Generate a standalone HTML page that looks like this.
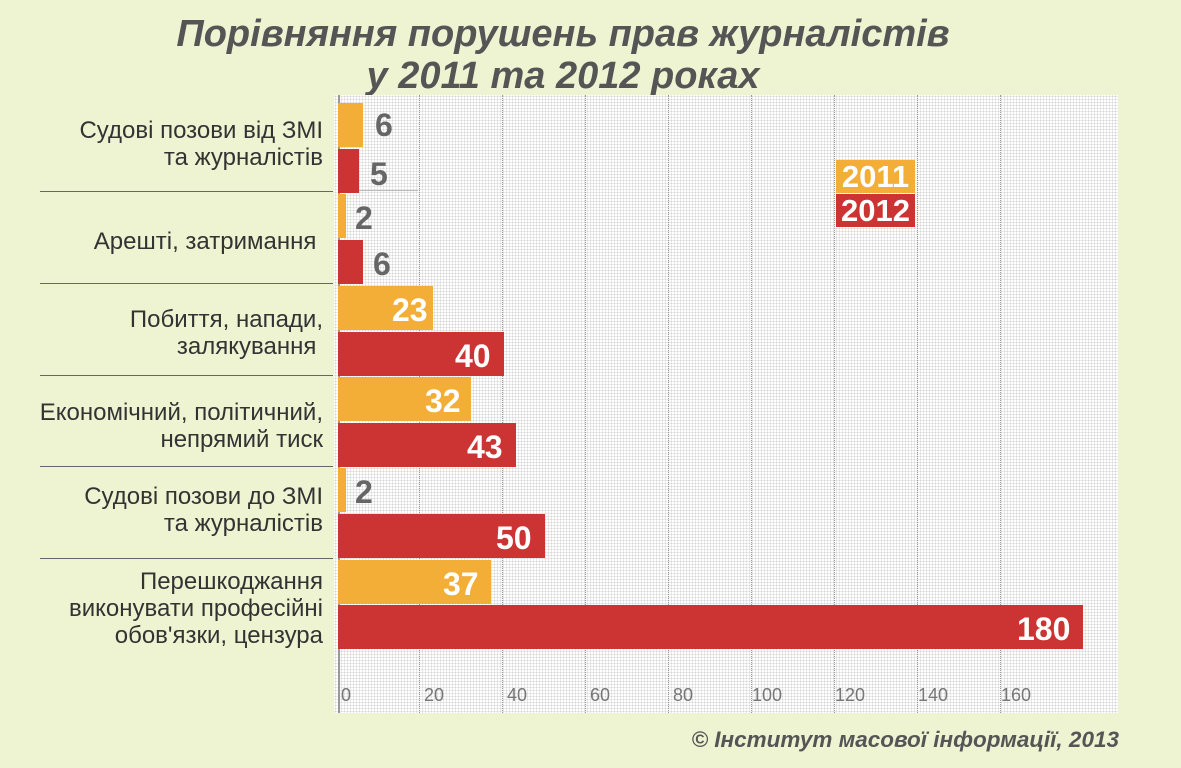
<!DOCTYPE html>
<html><head><meta charset="utf-8"><style>
body{margin:0;width:1181px;height:768px;background:#eef4d2;position:relative;overflow:hidden;font-family:"Liberation Sans",sans-serif}
.t{position:absolute;left:0;width:1126px;text-align:center;font-weight:bold;font-style:italic;font-size:38px;color:#555;line-height:42px}
.plot{position:absolute;left:334px;top:95px;width:784px;height:618px;background-color:#fff;background-image:radial-gradient(circle,#d6d6d6 0.8px,transparent 1.1px);background-size:3px 3px}
.g{position:absolute;top:95px;height:618px;border-left:1px dotted #999}
.bar{position:absolute;left:338px;height:44px}
.o{background:#f2ae37}.r{background:#cc3333}
.v{position:absolute;font-weight:bold;font-size:32px;line-height:44px}
.in{color:#fff}.out{color:#666}
.lab{position:absolute;right:858px;text-align:right;font-size:24px;color:#333;line-height:27px;white-space:nowrap}
.sep{position:absolute;left:40px;width:293px;border-top:1.5px solid #666}
.tk{position:absolute;top:685px;font-size:18px;color:#777}
.lg{position:absolute;left:836px;width:79px;height:33px;color:#fff;font-weight:bold;font-size:31px;line-height:33px;text-align:center}
</style></head><body>
<div class="t" style="top:13px">Порівняння порушень прав журналістів</div>
<div class="t" style="top:55px">у 2011 та 2012 роках</div>
<div class="plot"></div>
<div class="g" style="left:338px;border-left:2px solid #999"></div>
<div class="g" style="left:419px"></div><div class="g" style="left:502px"></div><div class="g" style="left:585px"></div><div class="g" style="left:668px"></div><div class="g" style="left:751px"></div><div class="g" style="left:834px"></div><div class="g" style="left:917px"></div><div class="g" style="left:1000px"></div>
<div style="position:absolute;left:338px;top:190px;width:80px;border-top:1px solid #bbb"></div>

<div class="bar o" style="top:103px;width:25px"></div><div class="v out" style="left:375px;top:103px">6</div>
<div class="bar r" style="top:149px;width:21px"></div><div class="v out" style="left:370px;top:152px">5</div>
<div class="bar o" style="top:194px;width:8px"></div><div class="v out" style="left:355px;top:196px">2</div>
<div class="bar r" style="top:240px;width:25px"></div><div class="v out" style="left:373px;top:242px">6</div>
<div class="bar o" style="top:286px;width:95px"></div><div class="v in" style="left:392px;top:288px">23</div>
<div class="bar r" style="top:332px;width:166px"></div><div class="v in" style="left:455px;top:334px">40</div>
<div class="bar o" style="top:377px;width:133px"></div><div class="v in" style="left:425px;top:379px">32</div>
<div class="bar r" style="top:423px;width:178px"></div><div class="v in" style="left:467px;top:425px">43</div>
<div class="bar o" style="top:468px;width:8px"></div><div class="v out" style="left:355px;top:470px">2</div>
<div class="bar r" style="top:514px;width:207px"></div><div class="v in" style="left:496px;top:516px">50</div>
<div class="bar o" style="top:560px;width:153px"></div><div class="v in" style="left:443px;top:562px">37</div>
<div class="bar r" style="top:605px;width:745px"></div><div class="v in" style="left:1017px;top:607px">180</div>

<div class="lab" style="top:117px">Судові позови від ЗМІ<br>та журналістів</div>
<div class="lab" style="top:228px">Арешті, затримання&nbsp;</div>
<div class="lab" style="top:306px">Побиття, напади,<br>залякування&nbsp;</div>
<div class="lab" style="top:399px">Економічний, політичний,<br>непрямий тиск</div>
<div class="lab" style="top:483px">Судові позови до ЗМІ<br>та журналістів</div>
<div class="lab" style="top:568px">Перешкоджання<br>виконувати професійні<br>обов'язки, цензура</div>
<div class="sep" style="top:191px"></div><div class="sep" style="top:283px"></div><div class="sep" style="top:375px"></div><div class="sep" style="top:466px"></div><div class="sep" style="top:558px"></div>

<div class="tk" style="left:341px">0</div><div class="tk" style="left:424px">20</div><div class="tk" style="left:507px">40</div><div class="tk" style="left:590px">60</div><div class="tk" style="left:673px">80</div><div class="tk" style="left:752px">100</div><div class="tk" style="left:835px">120</div><div class="tk" style="left:918px">140</div><div class="tk" style="left:1001px">160</div>

<div class="lg o" style="top:160px">2011</div>
<div class="lg r" style="top:194px">2012</div>
<div style="position:absolute;right:62px;top:727px;font-size:22.5px;font-style:italic;font-weight:bold;color:#555">© Інститут масової інформації, 2013</div>
</body></html>
